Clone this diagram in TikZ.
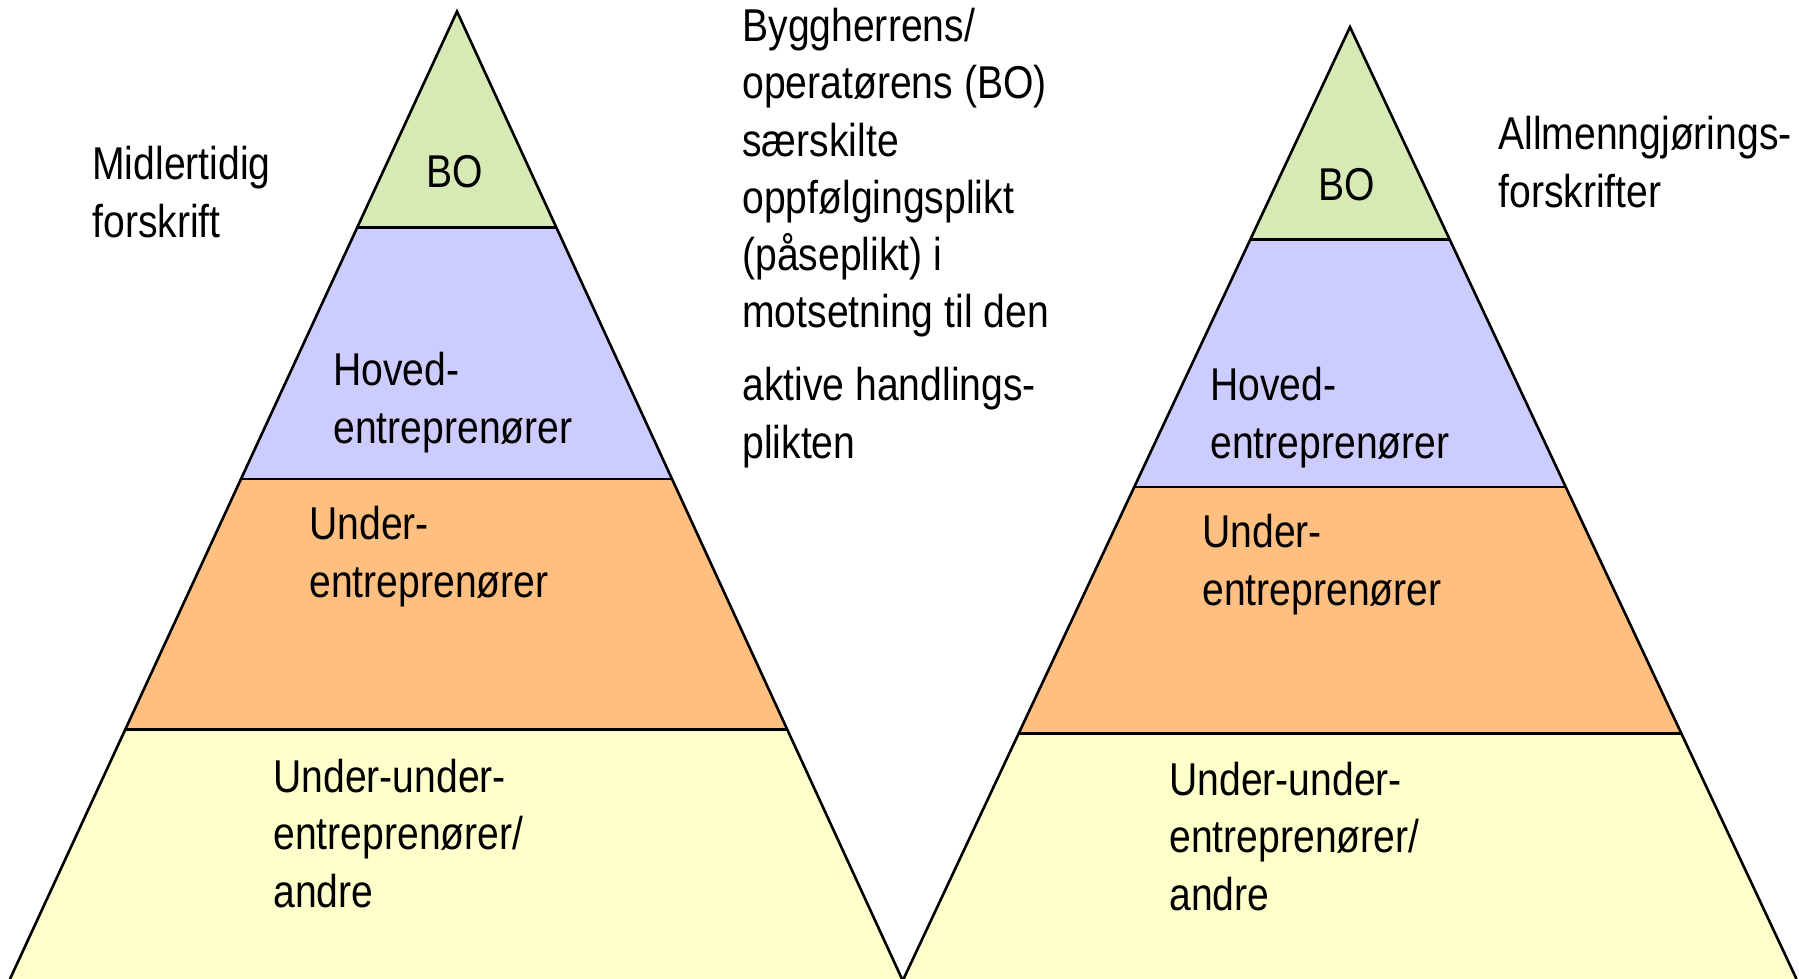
\documentclass[tikz,border=0pt]{standalone}
\usepackage{fontspec}
\setmainfont{Liberation Sans}[FakeStretch=0.85]
\usetikzlibrary{calc}

\definecolor{bogreen}{RGB}{215,233,181}
\definecolor{hovblue}{RGB}{204,204,255}
\definecolor{undorange}{RGB}{255,191,128}
\definecolor{uuyellow}{RGB}{255,255,204}

\tikzset{
  lbl/.style={anchor=base west, align=left, inner sep=0pt,
    font=\fontsize{23}{28.6}\selectfont},
  edge/.style={line width=1.3pt, line join=miter},
}

\begin{document}
\begin{tikzpicture}[x=0.5pt,y=-0.5pt]
    \useasboundingbox (0,0) rectangle (1799,979);

    % the two pyramids: apex and base corners
    \coordinate (topL) at (457,11.5);
    \coordinate (blL)  at (10,979);
    \coordinate (brL)  at (902,979);
    \coordinate (topR) at (1350,27);
    \coordinate (blR)  at (903.5,979);
    \coordinate (brR)  at (1796.5,979);

    \foreach \p in {L,R}{
        \foreach \a/\b/\c in {0/0.223/bogreen, 0.223/0.483/hovblue,
                              0.483/0.742/undorange, 0.742/1/uuyellow}{
            \fill[\c] ($(top\p)!\a!(bl\p)$) -- ($(top\p)!\a!(br\p)$)
                -- ($(top\p)!\b!(br\p)$) -- ($(top\p)!\b!(bl\p)$) -- cycle;
        }
    }
    \foreach \p in {L,R}{
        \draw[edge] (bl\p) -- (top\p) -- (br\p);
        \foreach \f in {0.223,0.483,0.742}
            \draw[edge] ($(top\p)!\f!(bl\p)$) -- ($(top\p)!\f!(br\p)$);
    }

    % labels in the left pyramid (placed by the baseline of the last line)
    \node (boL)  [lbl, anchor=base] at (455,187) {BO};
    \node (hovL) [lbl] at (333,443) {Hoved-\\entreprenører};
    \node (undL) [lbl] at (309,597) {Under-\\entreprenører};
    \node (uuL)  [lbl] at (273,907) {Under-under-\\entreprenører/\\andre};

    % labels in the right pyramid
    \node (boR)  [lbl, anchor=base] at (1347,200) {BO};
    \node (hovR) [lbl] at (1210,458) {Hoved-\\entreprenører};
    \node (undR) [lbl] at (1202,605) {Under-\\entreprenører};
    \node (uuR)  [lbl] at (1169,910) {Under-under-\\entreprenører/\\andre};

    % side texts
    \node (midl) [lbl] at (92,237) {Midlertidig\\forskrift};
    \node (allm) [lbl] at (1498,207) {Allmenngjørings-\\forskrifter};
    \node (plikt) [lbl] at (742,458) {Byggherrens/\\operatørens (BO)\\særskilte\\oppfølgingsplikt\\(påseplikt) i\\motsetning til den\\[8pt]aktive handlings-\\plikten};
\end{tikzpicture}
\end{document}
